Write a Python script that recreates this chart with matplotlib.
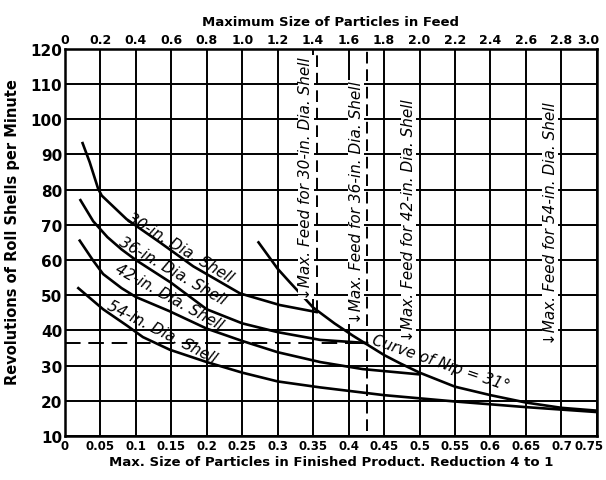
import matplotlib.pyplot as plt
import matplotlib.transforms as mtransforms

# readings from the chart (bottom axis = product size, y = rev/min)
x30 = [0.025, 0.035, 0.047, 0.052, 0.087, 0.134, 0.181, 0.247, 0.303, 0.355]
y30 = [93.2, 87.8, 80.2, 78.3, 71.6, 65.0, 58.2, 50.5, 47.2, 45.2]

x36 = [0.022, 0.04, 0.06, 0.08, 0.10, 0.15, 0.20, 0.25, 0.30, 0.36, 0.426]
y36 = [77.0, 71.0, 66.5, 63.0, 60.0, 53.5, 46.0, 42.0, 39.5, 37.3, 36.4]

x42 = [0.021, 0.04, 0.054, 0.08, 0.10, 0.147, 0.20, 0.25, 0.30, 0.36, 0.42, 0.50]
y42 = [65.5, 59.8, 56.0, 52.0, 49.5, 45.5, 40.5, 37.0, 33.8, 31.0, 29.0, 27.5]

x54 = [0.019, 0.054, 0.088, 0.11, 0.148, 0.20, 0.25, 0.30, 0.36, 0.45, 0.55, 0.65, 0.75]
y54 = [52.0, 46.0, 41.3, 38.1, 34.5, 31.0, 28.0, 25.5, 23.8, 21.6, 19.8, 18.2, 16.8]

xnip = [0.273, 0.30, 0.317, 0.35, 0.38, 0.406, 0.426, 0.45, 0.472, 0.50, 0.55, 0.60, 0.65, 0.70, 0.75]
ynip = [65.0, 57.5, 53.7, 46.5, 42.0, 38.5, 36.0, 33.0, 30.7, 28.0, 24.0, 21.6, 19.5, 18.0, 17.2]

feed_x = [0.355, 0.426, 0.50, 0.70]
feed_lbl = ["30", "36", "42", "54"]
nip_level = 36.4

bottom_ticks = [i * 0.05 for i in range(16)]
bottom_lbls = ["0", "0.05", "0.1", "0.15", "0.2", "0.25", "0.3", "0.35", "0.4",
               "0.45", "0.5", "0.55", "0.6", "0.65", "0.7", "0.75"]
top_ticks = [i * 0.2 for i in range(16)]
top_lbls = ["0", "0.2", "0.4", "0.6", "0.8", "1.0", "1.2", "1.4", "1.6", "1.8",
            "2.0", "2.2", "2.4", "2.6", "2.8", "3.0"]
y_ticks = list(range(10, 121, 10))

plt.rcParams['font.family'] = ['DejaVu Sans']

fig = plt.figure(figsize=(6.06, 4.81), dpi=100)
ax = fig.add_axes([0.107, 0.0915, 0.878, 0.805])

ax.set_xlim(0, 0.75)
ax.set_ylim(10, 120)
ax.set_xticks(bottom_ticks)
ax.set_xticklabels(bottom_lbls, fontsize=8.5, fontweight='bold')
ax.set_yticks(y_ticks)
ax.set_yticklabels([str(v) for v in y_ticks], fontsize=11, fontweight='bold')
ax.tick_params(length=0, pad=2)
ax.grid(color='black', lw=1.4, zorder=1)
for s in ax.spines.values():
    s.set_linewidth(1.8)

top = ax.secondary_xaxis('top', functions=(lambda v: v * 4, lambda v: v / 4))
top.set_xticks(top_ticks)
top.set_xticklabels(top_lbls, fontsize=9, fontweight='bold')
top.tick_params(length=0, pad=2)
top.set_xlabel("Maximum Size of Particles in Feed", fontsize=9.5, fontweight='bold', labelpad=6)

# nudge the last labels so they stay inside the figure
shift = mtransforms.ScaledTranslation(-6 / 72, 0, fig.dpi_scale_trans)
for lab in [ax.get_xticklabels()[-1], top.get_xticklabels()[-1]]:
    lab.set_transform(lab.get_transform() + shift)

ax.set_xlabel("Max. Size of Particles in Finished Product. Reduction 4 to 1",
              fontsize=9.5, fontweight='bold', labelpad=2)
ax.set_ylabel("Revolutions of Roll Shells per Minute", fontsize=10.5, fontweight='bold', labelpad=6)
ax.yaxis.set_label_coords(-0.085, 0.53)

for xs, ys in [(x30, y30), (x36, y36), (x42, y42), (x54, y54), (xnip, ynip)]:
    ax.plot(xs, ys, color='black', lw=1.9, zorder=3)

# max-feed lines
ax.plot([feed_x[0], feed_x[0]], [y30[-1], 120], color='black', lw=1.4,
        ls=(0, (6, 3)), zorder=2)
ax.plot([feed_x[1], feed_x[1]], [11.5, 120], color='black', lw=1.4,
        ls=(0, (6, 3)), zorder=2)
ax.plot([0, feed_x[1]], [nip_level, nip_level], color='black', lw=1.4,
        ls=(0, (8, 4)), zorder=2)

lbl_y = [83.5, 76.5, 71.6, 70.5]
for fx, d, ly in zip(feed_x, feed_lbl, lbl_y):
    ax.text(fx - 0.005, ly, "\u2193Max. Feed for " + d + "-in. Dia. Shell",
            rotation=90, ha='right', va='center', fontsize=11, style='italic',
            bbox=dict(facecolor='white', edgecolor='none', pad=0.3), zorder=4)

shell_lbl = [(0.162, 63.6, -31, "30"), (0.152, 57.0, -30, "36"),
             (0.147, 49.8, -29, "42"), (0.137, 39.6, -27, "54")]
for sx, sy, rot, d in shell_lbl:
    ax.text(sx, sy, d + "-in. Dia. Shell", rotation=rot, ha='center', va='center',
            fontsize=11, style='italic', zorder=4)

ax.text(0.53, 30.8, "Curve of Nip = 31\u00b0", rotation=-19, ha='center', va='center',
        fontsize=11, style='italic', zorder=4)

plt.savefig('out.png', dpi=100)
